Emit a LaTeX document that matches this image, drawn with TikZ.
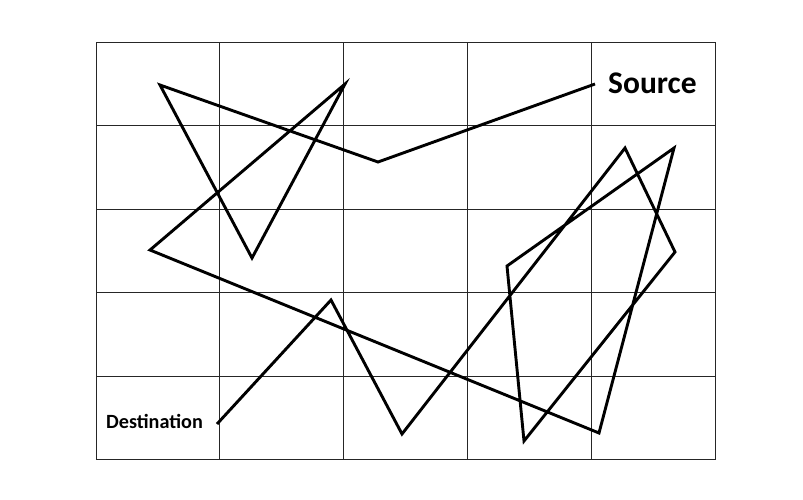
\documentclass[tikz,border=0pt]{standalone}
\usepackage{fontspec}
\setmainfont{Carlito}
\usetikzlibrary{positioning}

\begin{document}
\begin{tikzpicture}[x=1pt, y=-1pt,
    gridline/.style={draw=black!85, line width=0.9pt},
    route/.style={draw=black, line width=2.9pt},
    endlabel/.style={inner sep=0pt, font=\bfseries}]
    \useasboundingbox (0,0) rectangle (803,499);
    % grid
    \foreach \i in {0,...,5} {
      \draw[gridline] ({96+123.8*\i},42) -- ({96+123.8*\i},459.5);
      \draw[gridline] (96,{42+83.5*\i}) -- (715,{42+83.5*\i});
    }
    % route points
    \coordinate (s) at (595,84);
    \coordinate (p1) at (378,162);
    \coordinate (p2) at (160,85);
    \coordinate (p3) at (252,258);
    \coordinate (p4) at (345,84);
    \coordinate (p5) at (150,250);
    \coordinate (p6) at (599,433);
    \coordinate (p7) at (674,148);
    \coordinate (p8) at (507,266);
    \coordinate (p9) at (524,441);
    \coordinate (p10) at (675,252);
    \coordinate (p11) at (625,148);
    \coordinate (p12) at (402,434);
    \coordinate (p13) at (331,300);
    \coordinate (d) at (217,424);
    \draw[route] (s) -- (p1) -- (p2) -- (p3) -- (p4) -- (p5) -- (p6) -- (p7)
      -- (p8) -- (p9) -- (p10) -- (p11) -- (p12) -- (p13) -- (d);
    \node[endlabel, font=\bfseries\fontsize{31.5}{38}\selectfont, anchor=west] (source) at (608,83) {Source};
    \node[endlabel, font=\bfseries\fontsize{20.2}{24}\selectfont, anchor=west] (destination) at (106,421) {Destination};
\end{tikzpicture}
\end{document}
